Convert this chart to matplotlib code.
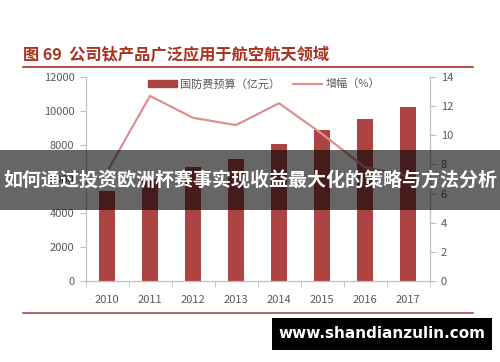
import matplotlib
matplotlib.use('Agg')
import matplotlib.pyplot as plt
from matplotlib.patches import Rectangle
from matplotlib.lines import Line2D

plt.rcParams['font.family'] = ['Noto Sans CJK SC', 'DejaVu Sans']

# Data
years = ['2010', '2011', '2012', '2013', '2014', '2015', '2016', '2017']
budget = [5321, 6011, 6703, 7202, 8082, 8869, 9543, 10211]      # 亿元
growth = [7.5, 12.7, 11.2, 10.7, 12.2, 10.1, 7.8, 7.2]          # %

title = '图 69  公司钛产品广泛应用于航空航天领域'
banner = '如何通过投资欧洲杯赛事实现收益最大化的策略与方法分析'
watermark = 'www.shandianzulin.com'

bar_color = '#ac4444'
line_color = '#dc9090'
axis_gray = '#bfbfbf'
text_gray = '#595959'
title_red = '#a8321e'

fig = plt.figure(figsize=(5, 3.62), dpi=100)
W, H = 500, 362

ax = fig.add_axes([85.5 / W, 81 / H, 344 / W, 204 / H])
x = range(len(years))
ax.bar(x, budget, width=0.38, color=bar_color, zorder=2)
ax.set_xlim(-0.5, len(years) - 0.5)
ax.set_ylim(0, 12000)
ax.set_yticks(range(0, 12001, 2000))
ax.set_xticks(list(x))
ax.set_xticklabels(years)
ax.set_xticks([i + 0.5 for i in range(-1, len(years))], minor=True)
ax.tick_params(axis='x', which='major', length=0, pad=10, labelsize=8, labelcolor=text_gray)
ax.tick_params(axis='x', which='minor', length=4, color=axis_gray, direction='out')
ax.tick_params(axis='y', length=4, color=axis_gray, labelsize=8, labelcolor=text_gray, pad=4)
ax.spines['top'].set_visible(False)
for s in ['left', 'right', 'bottom']:
    ax.spines[s].set_color(axis_gray)
    ax.spines[s].set_linewidth(0.8)

ax2 = ax.twinx()
ax2.plot(x, growth, color=line_color, lw=1.6, zorder=3)
ax2.set_ylim(0, 14)
ax2.set_yticks(range(0, 15, 2))
ax2.tick_params(axis='y', length=4, color=axis_gray, labelsize=8, labelcolor=text_gray, pad=4)
ax2.spines['top'].set_visible(False)
for s in ['left', 'right', 'bottom']:
    ax2.spines[s].set_color(axis_gray)
    ax2.spines[s].set_linewidth(0.8)

# legend
handles = [Rectangle((0, 0), 1, 1, color=bar_color),
           Line2D([0], [0], color=line_color, lw=1.6)]
leg = fig.legend(handles, ['国防费预算（亿元）', '增幅（%）'], loc='center',
                 bbox_to_anchor=(264 / W, 1 - 84 / H), ncol=2, frameon=False,
                 fontsize=8, handlelength=2.6, handleheight=0.6, columnspacing=1.2,
                 handletextpad=0.3)
for t in leg.get_texts():
    t.set_color(text_gray)

# title and rules
fig.text(23 / W, 1 - 55 / H, title, color=title_red, fontsize=11.7,
         fontweight='bold', va='center', ha='left')
fig.add_artist(Line2D([23 / W, 473 / W], [1 - 67 / H, 1 - 67 / H],
                      color=title_red, lw=1.2))
fig.add_artist(Line2D([23 / W, 473 / W], [1 - 313 / H, 1 - 313 / H],
                      color='#a05050', lw=1.2))

# banner overlay
fig.patches.append(Rectangle((0, 1 - 210 / H), 1, 60 / H, transform=fig.transFigure,
                             facecolor='black', alpha=0.6, zorder=10))
fig.text(0.5, 1 - 181 / H, banner, color='white', fontsize=13.7, fontweight='bold',
         ha='center', va='center', zorder=11)

# watermark
fig.patches.append(Rectangle((272 / W, 1 - 350 / H), 220 / W, 32 / H,
                             transform=fig.transFigure, facecolor='black', zorder=10))
fig.text(382 / W, 1 - 334 / H, watermark, color='white', fontsize=11,
         fontweight='bold', ha='center', va='center', family='DejaVu Sans', zorder=11)

fig.savefig('out.png', dpi=100)
